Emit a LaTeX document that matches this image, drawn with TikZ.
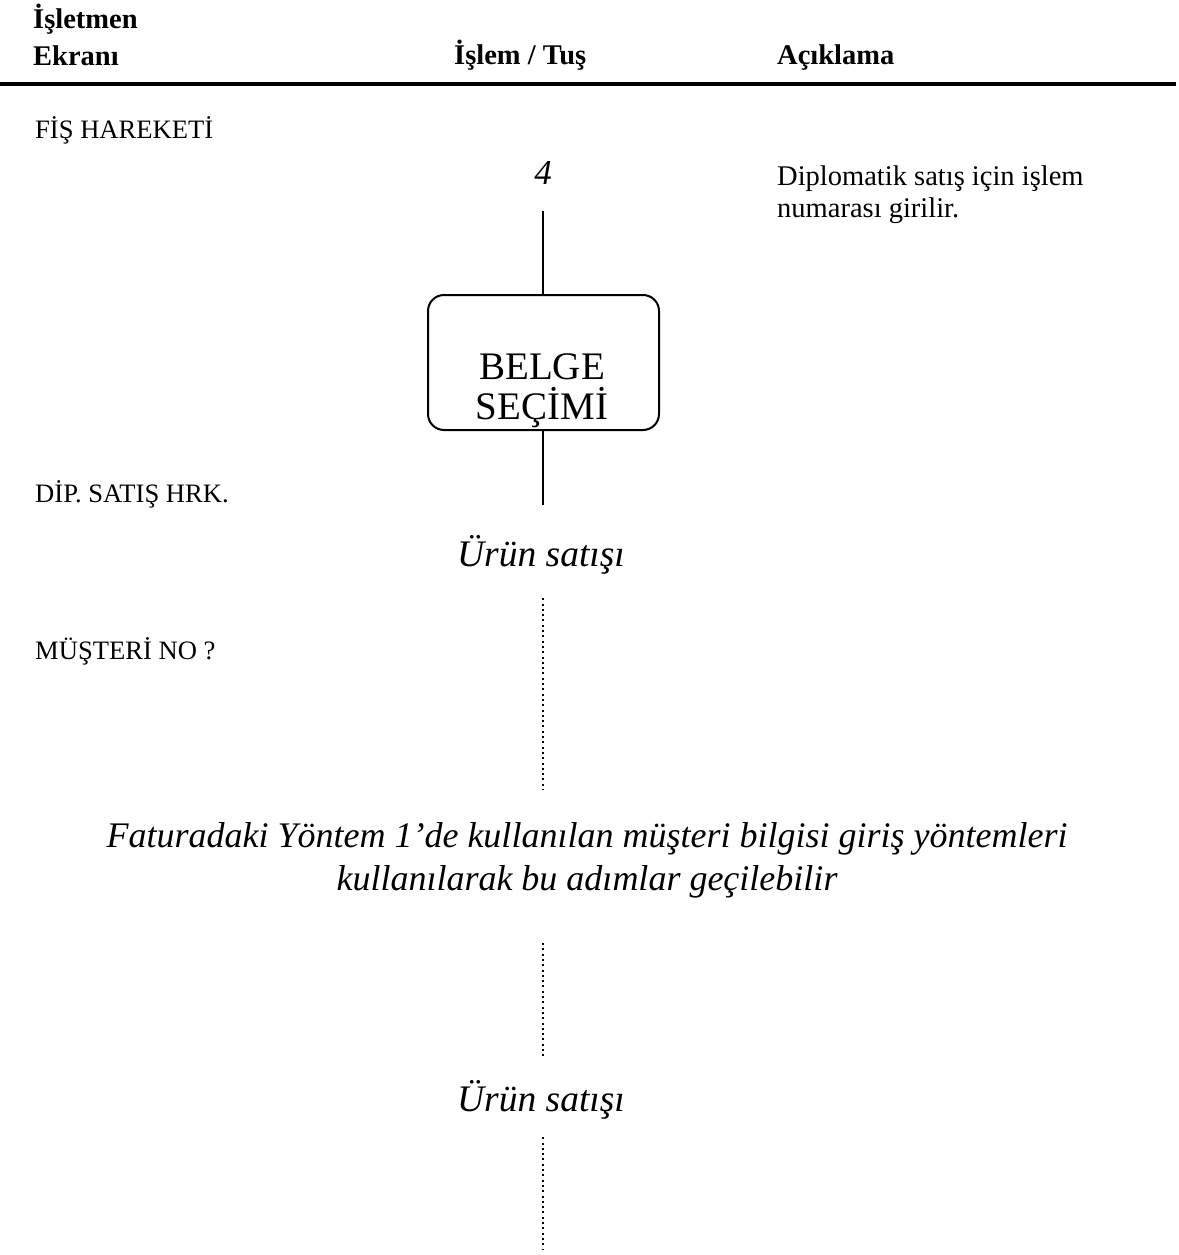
\documentclass[tikz,border=0pt]{standalone}
\usepackage{fontspec}
\setmainfont{Liberation Serif}
\begin{document}
\begin{tikzpicture}[x=1pt,y=-1pt,
  hdr/.style={inner sep=0pt, font=\fontsize{28.5}{37}\selectfont\bfseries},
  txt/.style={inner sep=0pt, font=\fontsize{26.6}{31}\selectfont},
  big/.style={inner sep=0pt, font=\fontsize{37.5}{43}\selectfont\itshape, text height=26pt, text depth=8pt},
  stepbox/.style={draw, line width=2pt, rounded corners=16pt, minimum width=231pt, minimum height=135pt, inner sep=0pt},
  solidline/.style={line width=2.5pt},
  dotline/.style={line width=2pt, dash pattern=on 2pt off 3.3pt}]
\useasboundingbox (0,0) rectangle (1178,1255);

% header
\node[hdr, anchor=north west, align=left] (h1) at (33,4) {İşletmen\\Ekranı};
\node[hdr, anchor=base west] (h2) at (454,65) {İşlem / Tuş};
\node[hdr, anchor=base west] (h3) at (777,65) {Açıklama};
\coordinate (rl) at (0,84);
\coordinate (rr) at (1176,84);
\draw[line width=4pt] (rl) -- (rr);

% left column
\node[txt, anchor=base west] (s1) at (35,138) {FİŞ HAREKETİ};
\node[txt, anchor=base west] (s2) at (35,502) {DİP. SATIŞ HRK.};
\node[txt, anchor=base west] (s3) at (35,659) {MÜŞTERİ NO ?};

% right column
\node[txt, font=\fontsize{28.5}{32}\selectfont, anchor=north west, align=left] (desc) at (777,166) {Diplomatik satış için işlem\\numarası girilir.};

% middle flow
\node[big, font=\fontsize{35}{40}\selectfont\itshape, anchor=base] (k4) at (543,184) {4};
\node[stepbox] (belge) at (543.5,362.5) {};
\node[inner sep=0pt, font=\fontsize{39}{40}\selectfont, align=center] (bl) at (542,391) {BELGE\\SEÇİMİ};
\node[big, anchor=base] (u1) at (541,566) {Ürün satışı};
\node[inner sep=0pt, font=\fontsize{36}{43}\selectfont\itshape, align=center] (fat) at (587,860)
  {Faturadaki Yöntem 1’de kullanılan müşteri bilgisi giriş yöntemleri\\kullanılarak bu adımlar geçilebilir};
\node[big, anchor=base] (u2) at (541,1111) {Ürün satışı};
\coordinate (fin) at (543,1250);

\draw[solidline, shorten <=19pt] (k4.south) -- (k4.south |- belge.north);
\draw[solidline, shorten >=35pt] (belge.south -| k4.south) -- (k4.south |- u1.north);
\draw[dotline, shorten <=24pt, shorten >=32pt] (k4.south |- u1.south) -- (k4.south |- fat.north);
\draw[dotline, shorten <=45pt, shorten >=27pt] (k4.south |- fat.south) -- (k4.south |- u2.north);
\draw[dotline, shorten <=18pt] (k4.south |- u2.south) -- (fin);
\end{tikzpicture}
\end{document}
